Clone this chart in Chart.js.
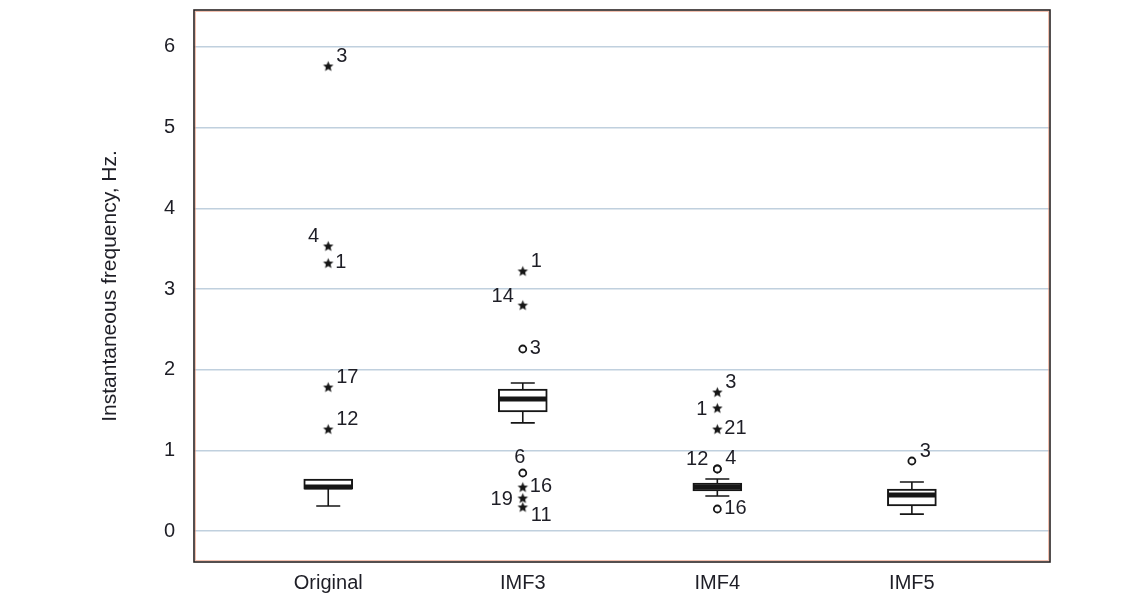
<!DOCTYPE html>
<html>
<head>
<meta charset="utf-8">
<script src="https://cdn.jsdelivr.net/npm/chart.js@4.4.0/dist/chart.umd.min.js"></script>
<style>
  html, body { margin: 0; padding: 0; background: #fff; }
</style>
</head>
<body>
<canvas id="freqBox" width="1135" height="598"></canvas>
<script>
// box statistics per signal (Hz)
const groups = ['Original', 'IMF3', 'IMF4', 'IMF5'];
const whiskerLow = [0.31, 1.34, 0.434, 0.21];
const boxLow = [0.52, 1.475, 0.496, 0.31];
const medians = [0.545, 1.636, 0.545, 0.446];
const boxHigh = [0.645, 1.76, 0.595, 0.52];
const whiskerHigh = [0.645, 1.835, 0.645, 0.607];

const yTicks = [0, 1, 2, 3, 4, 5, 6];

// outliers: group index, value, case number, marker type, side for the case number
const outGroup = [0, 0, 0, 0, 0, 1, 1, 1, 1, 1, 1, 1, 2, 2, 2, 2, 2, 2, 3];
const outValue = [5.764, 3.533, 3.322, 1.785, 1.264, 3.223, 2.80, 2.256, 0.719, 0.545, 0.409, 0.298,
                  1.723, 1.525, 1.264, 0.769, 0.769, 0.273, 0.868];
const outCase = ['3', '4', '1', '17', '12', '1', '14', '3', '6', '16', '19', '11', '3', '1', '21', '12', '4', '16', '3'];
const outMark = ['star', 'star', 'star', 'star', 'star', 'star', 'star', 'circle', 'circle', 'star', 'star', 'star',
                 'star', 'star', 'star', 'circle', 'circle', 'circle', 'circle'];
const outSide = ['ne', 'nw', 'e', 'ne', 'ne', 'ne', 'nw', 'e', 'n', 'e', 'w', 'se', 'ne', 'w', 'e', 'nw', 'ne', 'e', 'ne'];

const ink = '#161616';
Chart.defaults.font.family = '"Liberation Sans", Arial, sans-serif';
Chart.defaults.color = '#1e1e26';

function makeStar(r) {
    const c = document.createElement('canvas');
    const s = Math.ceil(r * 2 + 2);
    c.width = s;
    c.height = s;
    const g = c.getContext('2d');
    g.translate(s / 2, s / 2 + 0.5);
    g.beginPath();
    for (let i = 0; i < 10; i++) {
        const rad = i % 2 === 0 ? r : r * 0.45;
        const a = -Math.PI / 2 + i * Math.PI / 5;
        g.lineTo(rad * Math.cos(a), rad * Math.sin(a));
    }
    g.closePath();
    g.fillStyle = ink;
    g.fill();
    return c;
}

const boxData = groups.map((name, i) => ({ x: i, y: [boxLow[i], boxHigh[i]] }));
const starPts = [];
const circlePts = [];
outValue.forEach((v, i) => {
    const p = { x: outGroup[i], y: v, id: outCase[i], side: outSide[i] };
    if (outMark[i] === 'star') starPts.push(p); else circlePts.push(p);
});

// whiskers behind the boxes, medians, case numbers and frame on top
const boxParts = {
    id: 'boxParts',
    beforeDatasetsDraw(chart) {
        const { ctx, scales: { x, y } } = chart;
        ctx.save();
        ctx.strokeStyle = ink;
        ctx.lineWidth = 1.6;
        groups.forEach((name, i) => {
            const cx = x.getPixelForValue(i);
            const cap = 12;
            [[whiskerLow[i], boxLow[i]], [whiskerHigh[i], boxHigh[i]]].forEach(([end, edge]) => {
                if (end === edge) return;
                const ye = y.getPixelForValue(end);
                ctx.beginPath();
                ctx.moveTo(cx, ye);
                ctx.lineTo(cx, y.getPixelForValue(edge));
                ctx.moveTo(cx - cap, ye);
                ctx.lineTo(cx + cap, ye);
                ctx.stroke();
            });
        });
        ctx.restore();
    },
    afterDatasetsDraw(chart) {
        const { ctx, chartArea: a, scales: { x, y } } = chart;
        ctx.save();
        // medians
        ctx.strokeStyle = ink;
        ctx.lineWidth = 5;
        groups.forEach((name, i) => {
            const cx = x.getPixelForValue(i);
            const ym = y.getPixelForValue(medians[i]);
            ctx.beginPath();
            ctx.moveTo(cx - 24, ym);
            ctx.lineTo(cx + 24, ym);
            ctx.stroke();
        });
        // case numbers beside outliers
        ctx.font = '20px "Liberation Sans", Arial, sans-serif';
        ctx.fillStyle = '#1e1e26';
        ctx.textBaseline = 'middle';
        [1, 2].forEach(di => {
            const meta = chart.getDatasetMeta(di);
            meta.data.forEach((pt, j) => {
                const raw = chart.data.datasets[di].data[j];
                let tx = pt.x, ty = pt.y;
                if (raw.side === 'ne') { ctx.textAlign = 'left'; tx += 8; ty -= 10; }
                else if (raw.side === 'e') { ctx.textAlign = 'left'; tx += 7; ty -= 1; }
                else if (raw.side === 'se') { ctx.textAlign = 'left'; tx += 8; ty += 9; }
                else if (raw.side === 'nw') { ctx.textAlign = 'right'; tx -= 9; ty -= 9; }
                else if (raw.side === 'w') { ctx.textAlign = 'right'; tx -= 10; ty += 1; }
                else { ctx.textAlign = 'center'; tx -= 3; ty -= 16; }
                ctx.fillText(raw.id, tx, ty);
            });
        });
        // plot frame
        ctx.strokeStyle = 'rgba(232, 140, 110, 0.55)';
        ctx.lineWidth = 1;
        ctx.strokeRect(a.left + 1.5, a.top + 1.5, a.width - 3, a.height - 3);
        ctx.strokeStyle = '#2a2424';
        ctx.lineWidth = 1.6;
        ctx.strokeRect(a.left, a.top, a.width, a.height);
        ctx.restore();
    }
};

new Chart(document.getElementById('freqBox'), {
    type: 'bar',
    data: {
        datasets: [{
            type: 'bar',
            data: boxData,
            backgroundColor: '#ffffff',
            borderColor: ink,
            borderWidth: 2,
            borderSkipped: false,
            barThickness: 49
        }, {
            type: 'scatter',
            data: starPts,
            pointStyle: makeStar(5.5),
            pointRadius: 5
        }, {
            type: 'scatter',
            data: circlePts,
            pointStyle: 'circle',
            pointRadius: 3.5,
            borderWidth: 1.8,
            borderColor: ink,
            backgroundColor: '#ffffff'
        }]
    },
    options: {
        responsive: false,
        animation: false,
        layout: { padding: { top: 10, right: 85, left: 0, bottom: 0 } },
        plugins: {
            legend: { display: false },
            tooltip: { enabled: false }
        },
        scales: {
            x: {
                type: 'linear',
                min: -0.69,
                max: 3.71,
                offset: false,
                afterBuildTicks: axis => { axis.ticks = groups.map((g, i) => ({ value: i })); },
                afterFit: axis => { axis.height = 36; },
                grid: { display: false, drawTicks: false },
                border: { display: false },
                ticks: {
                    padding: 9,
                    font: { size: 20 },
                    callback: v => groups[v]
                }
            },
            y: {
                type: 'linear',
                min: -0.384,
                max: 6.458,
                afterBuildTicks: axis => { axis.ticks = yTicks.map(v => ({ value: v })); },
                afterFit: axis => {
                    axis.width = 194;
                    axis.paddingTop = 0;
                    axis.paddingBottom = 0;
                },
                grid: { color: 'rgb(192, 208, 222)', lineWidth: 1.5, drawTicks: false },
                border: { display: false },
                ticks: { padding: 19, font: { size: 20 } },
                title: {
                    display: true,
                    text: 'Instantaneous frequency, Hz.',
                    font: { size: 21 },
                    padding: { top: 98, bottom: 0 }
                }
            }
        }
    },
    plugins: [boxParts]
});
</script>
</body>
</html>
